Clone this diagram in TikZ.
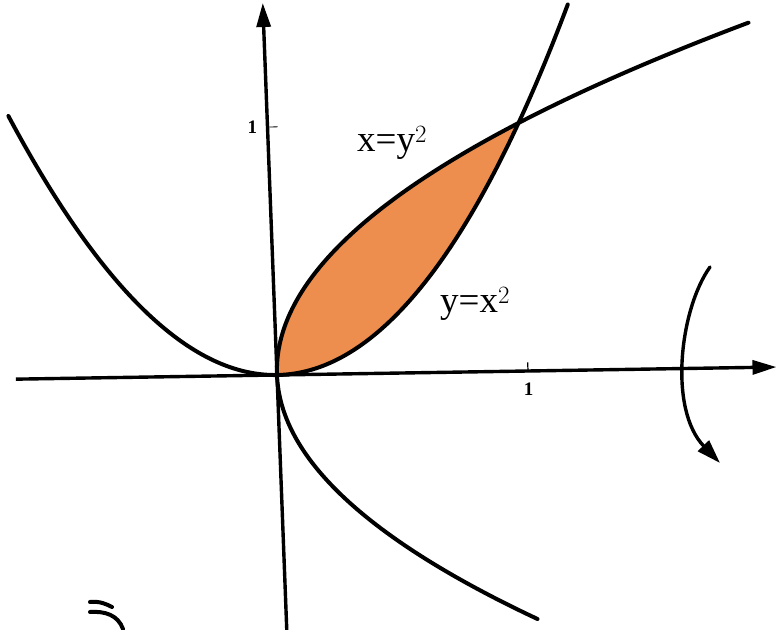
\documentclass[tikz,border=0pt]{standalone}
\usepackage{fontspec}
\setmainfont{Liberation Serif}
\usetikzlibrary{arrows.meta}
\definecolor{regionfill}{RGB}{238,142,78}
\tikzset{
  curve/.style={line width=4pt, line cap=round},
  axisline/.style={line width=3.4pt, -{Triangle[length=24pt,width=14pt]}},
  lbl/.style={font=\fontsize{37}{40}\selectfont, inner sep=0pt},
  ticklbl/.style={font=\fontsize{19}{21}\selectfont\bfseries, inner sep=0pt},
}
\begin{document}
\begin{tikzpicture}[x=1pt,y=1pt]
\useasboundingbox (0,0) rectangle (776,629);
\fill[white] (0,0) rectangle (776,629);
\begin{scope}[shift={(277,254)}, x={(251pt,4pt)}, y={(-9.5pt,248pt)}]
  % shaded region
  \fill[regionfill] plot[domain=0:1, samples=60] (\x,{\x*\x})
     -- plot[domain=1:0, samples=60] ({\x*\x},\x) -- cycle;
  % axes
  \coordinate (xl) at (-1.04,0);
  \coordinate (xr) at (1.99,0);
  \coordinate (yb) at (0,-1.03);
  \coordinate (yt) at (0,1.5);
  \draw[axisline] (xl) -- (xr);
  \draw[axisline] (yb) -- (yt);
  % curves
  \draw[curve] plot[domain=-1.03:1.215, samples=120, smooth] (\x,{\x*\x});
  \draw[curve] plot[domain=-1.0:1.39, samples=120, smooth] ({\x*\x},\x);
  % ticks
  \coordinate (tx0) at (1,0);
  \coordinate (tx1) at (1,0.035);
  \draw[line width=1.2pt] (tx0) -- (tx1);
  \node[ticklbl] (onex) at (1,-0.075) {1};
  \coordinate (ty0) at (0,1);
  \coordinate (ty1) at (0.04,1);
  \draw[line width=0.8pt] (ty0) -- (ty1);
  \node[ticklbl] (oney) at (-0.06,1) {1};
\end{scope}
% labels
\node[lbl, anchor=base west] (lblx) at (357,477) {x=y$^2$};
\node[lbl, anchor=base west] (lbly) at (440,316) {y=x$^2$};
% curved arrow
\coordinate (ra) at (710,362);
\coordinate (rb) at (720,166);
\draw[line width=3.4pt, line cap=round, -{Triangle[length=24pt,width=15pt]}] (ra) .. controls (680,320) and (668,220) .. (rb);
% doodle fragment
\coordinate (d1a) at (90,27);
\coordinate (d1b) at (112,22);
\coordinate (d2a) at (90,17);
\coordinate (d2b) at (123,0);
\draw[curve] (d1a) .. controls (100,28) and (106,25) .. (d1b);
\draw[curve] (d2a) .. controls (105,18) and (118,14) .. (d2b);
\end{tikzpicture}
\end{document}
